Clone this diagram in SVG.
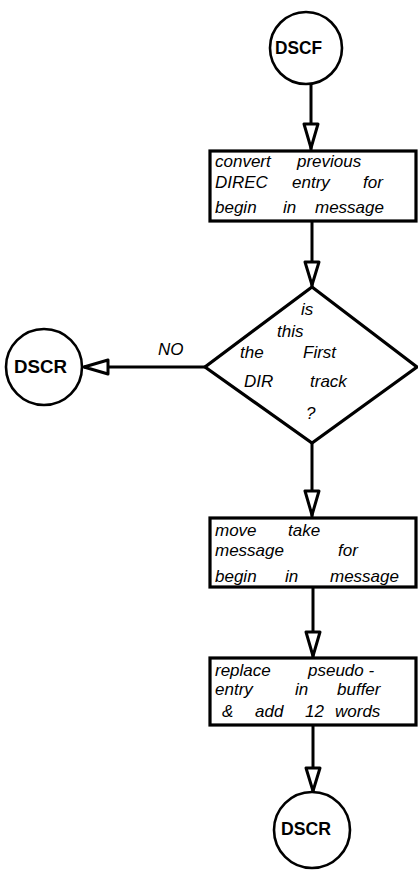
<svg xmlns="http://www.w3.org/2000/svg" width="418" height="873" viewBox="0 0 418 873">
<style>
.node{fill:#fff;stroke:#000;stroke-width:3.2}
.circ{fill:#fff;stroke:#000;stroke-width:2.6}
.t{font-family:"Liberation Sans",Arial,sans-serif;font-style:italic;font-size:17px;fill:#000}
.lbl{font-family:"Liberation Sans",Arial,sans-serif;font-weight:bold;font-size:18px;fill:#000}
.edge{stroke:#000;stroke-width:3;fill:none}
.head{fill:#fff;stroke:#000;stroke-width:3;stroke-linejoin:round}
</style>
<rect width="418" height="873" fill="#fff"/>
<g id="connectors">
<line class="edge" x1="311" y1="84" x2="311" y2="150"/>
<polygon class="head" points="304,124 318,124 311,148"/>
<line class="edge" x1="312" y1="222" x2="312" y2="287"/>
<polygon class="head" points="305,262 319,262 312,285"/>
<line class="edge" x1="312" y1="443" x2="312" y2="517"/>
<polygon class="head" points="305,491 319,491 312,515"/>
<line class="edge" x1="313" y1="588" x2="313" y2="658"/>
<polygon class="head" points="306,632 320,632 313,656"/>
<line class="edge" x1="313" y1="725" x2="313" y2="792"/>
<polygon class="head" points="306,768 320,768 313,791"/>
<line class="edge" x1="205" y1="367" x2="84" y2="367"/>
<polygon class="head" points="108,360 108,374 84,367"/>
<text class="t" x="158" y="355">NO</text>
</g>
<g id="DSCF">
<circle class="circ" cx="306" cy="48" r="36"/>
<text class="lbl" x="275" y="54" textLength="47" lengthAdjust="spacingAndGlyphs">DSCF</text>
</g>
<g id="convert">
<rect class="node" x="210" y="151" width="206" height="70"/>
<text class="t" x="215" y="167">convert</text>
<text class="t" x="297" y="167">previous</text>
<text class="t" x="215" y="188">DIREC</text>
<text class="t" x="292" y="188">entry</text>
<text class="t" x="363" y="188">for</text>
<text class="t" x="215" y="213">begin</text>
<text class="t" x="283" y="213">in</text>
<text class="t" x="315" y="213">message</text>
</g>
<g id="decision">
<polygon class="node" points="312,287 417,367 312,443 205,367"/>
<text class="t" x="301" y="315">is</text>
<text class="t" x="277" y="337">this</text>
<text class="t" x="240" y="358">the</text>
<text class="t" x="303" y="358">First</text>
<text class="t" x="244" y="387">DIR</text>
<text class="t" x="310" y="387">track</text>
<text class="t" x="306" y="419">?</text>
</g>
<g id="DSCR_left">
<circle class="circ" cx="44" cy="367" r="38"/>
<text class="lbl" x="14" y="373" textLength="53" lengthAdjust="spacingAndGlyphs">DSCR</text>
</g>
<g id="move">
<rect class="node" x="210" y="518" width="206" height="69"/>
<text class="t" x="215" y="536">move</text>
<text class="t" x="288" y="536">take</text>
<text class="t" x="215" y="556">message</text>
<text class="t" x="338" y="556">for</text>
<text class="t" x="215" y="582">begin</text>
<text class="t" x="285" y="582">in</text>
<text class="t" x="330" y="582">message</text>
</g>
<g id="replace">
<rect class="node" x="210" y="658" width="206" height="67"/>
<text class="t" x="215" y="676">replace</text>
<text class="t" x="308" y="676">pseudo -</text>
<text class="t" x="215" y="695">entry</text>
<text class="t" x="295" y="695">in</text>
<text class="t" x="337" y="695">buffer</text>
<text class="t" x="222" y="717">&amp;</text>
<text class="t" x="255" y="717">add</text>
<text class="t" x="305" y="717">12</text>
<text class="t" x="335" y="717">words</text>
</g>
<g id="DSCR_bottom">
<circle class="circ" cx="312" cy="830" r="38"/>
<text class="lbl" x="281" y="835" textLength="50" lengthAdjust="spacingAndGlyphs">DSCR</text>
</g>
</svg>
